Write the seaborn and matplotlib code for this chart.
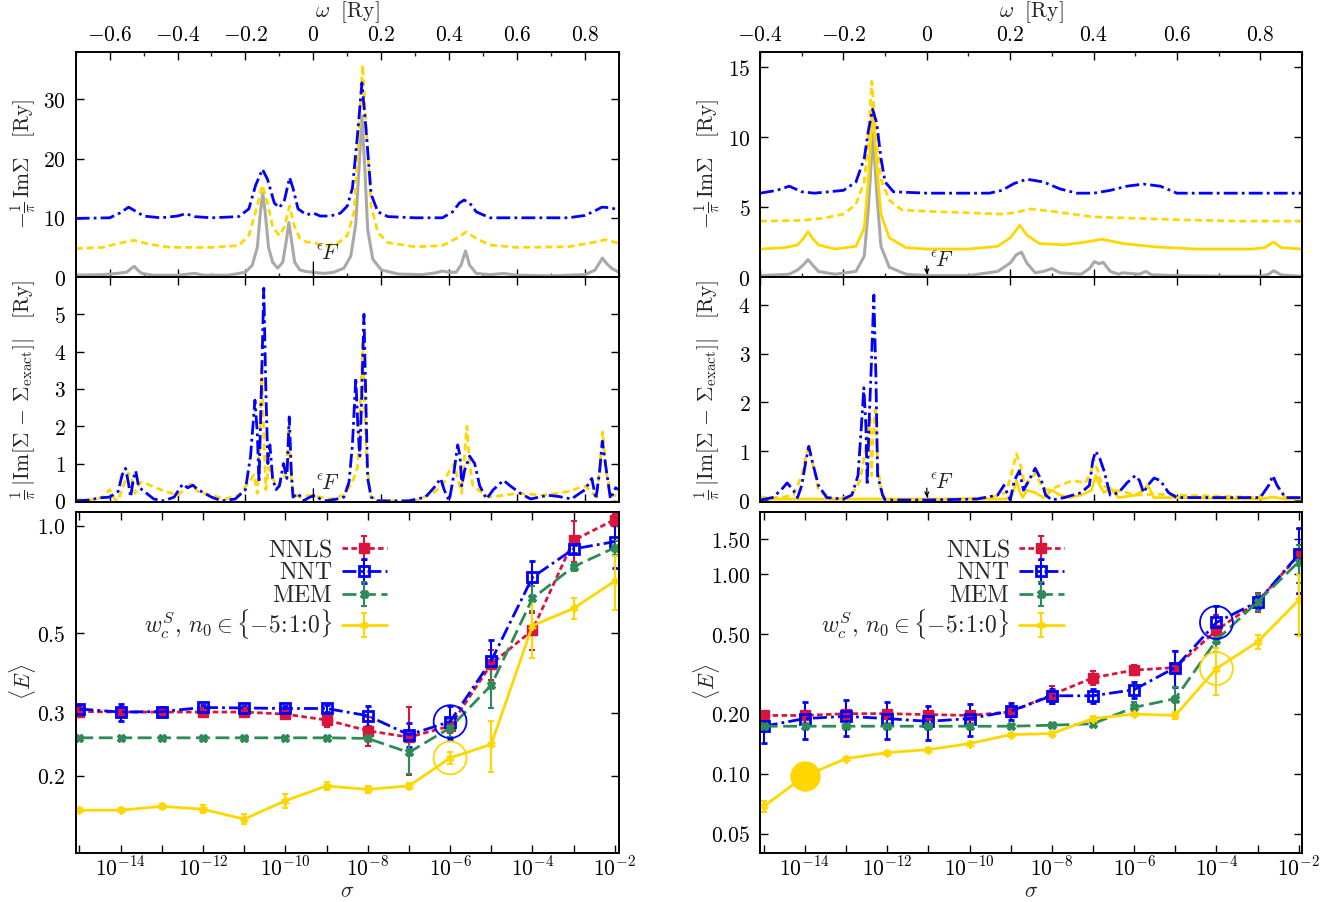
import matplotlib
matplotlib.use("Agg")
import matplotlib.pyplot as plt
import numpy as np
import pandas as pd
import seaborn as sns
from matplotlib.ticker import FixedLocator, FuncFormatter, NullLocator, MultipleLocator

sns.set_style("ticks")
plt.rcParams["mathtext.fontset"] = "cm"
plt.rcParams["font.family"] = ["DejaVu Serif"]
plt.rcParams["axes.linewidth"] = 1.4

RED = "#dc143c"
BLUE = "#0000ff"
GREEN = "#2e8b57"
GOLD = "#ffd700"
GRAY = "#a9a9a9"

# ---------------- spectra (omega [Ry], value [Ry]) ----------------
# left column, top panel
exact_L = [(-0.70, 0.3), (-0.62, 0.4), (-0.58, 0.6), (-0.55, 0.8), (-0.535, 1.5), (-0.527, 1.8),
           (-0.518, 1.2), (-0.505, 0.6), (-0.47, 0.3), (-0.40, 0.3), (-0.35, 0.6), (-0.32, 0.3),
           (-0.25, 0.3), (-0.20, 0.8), (-0.18, 2.0), (-0.165, 5.0), (-0.156, 11.0), (-0.149, 14.1),
           (-0.142, 11.0), (-0.132, 5.0), (-0.12, 2.5), (-0.105, 1.5), (-0.09, 2.5), (-0.08, 6.0),
           (-0.072, 9.2), (-0.064, 6.0), (-0.055, 2.5), (-0.04, 1.2), (-0.02, 0.9), (0.0, 0.8),
           (0.03, 0.6), (0.06, 0.8), (0.09, 1.5), (0.11, 3.5), (0.125, 9.0), (0.135, 19.0),
           (0.143, 27.2), (0.151, 19.0), (0.16, 8.0), (0.175, 3.0), (0.20, 1.2), (0.25, 0.5),
           (0.32, 0.4), (0.36, 0.7), (0.38, 1.0), (0.40, 0.8), (0.42, 0.8), (0.435, 2.0),
           (0.448, 4.4), (0.46, 2.0), (0.48, 0.6), (0.52, 0.4), (0.56, 0.6), (0.60, 0.3),
           (0.70, 0.2), (0.80, 0.4), (0.83, 1.2), (0.851, 3.2), (0.865, 2.2), (0.88, 1.4), (0.90, 0.8)]
nnt_L = [(-0.70, 9.9), (-0.60, 10.0), (-0.57, 10.8), (-0.544, 11.8), (-0.52, 11.0), (-0.50, 10.3),
         (-0.45, 10.0), (-0.40, 10.3), (-0.376, 10.7), (-0.35, 10.2), (-0.30, 10.0), (-0.22, 10.2),
         (-0.19, 11.5), (-0.17, 15.5), (-0.15, 18.2), (-0.135, 16.5), (-0.115, 12.5), (-0.10, 11.7),
         (-0.085, 13.0), (-0.07, 16.8), (-0.06, 15.0), (-0.045, 11.5), (-0.02, 10.5), (0.0, 10.8),
         (0.02, 10.3), (0.05, 10.3), (0.08, 10.8), (0.10, 12.0), (0.115, 15.0), (0.13, 24.0),
         (0.143, 32.8), (0.155, 25.0), (0.17, 14.0), (0.19, 11.0), (0.22, 10.2), (0.30, 10.0),
         (0.38, 10.0), (0.41, 11.0), (0.43, 12.5), (0.444, 13.0), (0.46, 12.5), (0.48, 11.0),
         (0.52, 10.0), (0.60, 10.0), (0.75, 10.0), (0.80, 10.4), (0.83, 11.2), (0.85, 11.8),
         (0.875, 11.7), (0.90, 11.3)]
ws_L = [(-0.70, 4.8), (-0.62, 5.0), (-0.58, 5.6), (-0.53, 6.2), (-0.48, 5.5), (-0.42, 5.0),
        (-0.30, 5.0), (-0.22, 5.3), (-0.19, 7.0), (-0.17, 11.0), (-0.15, 15.5), (-0.135, 12.5),
        (-0.12, 8.5), (-0.10, 7.0), (-0.085, 8.5), (-0.07, 12.0), (-0.058, 9.0), (-0.04, 6.5),
        (-0.02, 5.9), (0.0, 5.8), (0.03, 5.3), (0.07, 5.6), (0.10, 7.0), (0.12, 11.0),
        (0.135, 25.0), (0.145, 35.8), (0.155, 26.0), (0.17, 12.0), (0.19, 7.5), (0.22, 5.8),
        (0.30, 5.1), (0.38, 5.3), (0.42, 6.5), (0.45, 7.6), (0.48, 6.5), (0.52, 5.4),
        (0.60, 5.0), (0.75, 5.1), (0.82, 5.8), (0.86, 6.3), (0.90, 5.7)]

# right column, top panel
exact_R = [(-0.40, 0.1), (-0.33, 0.2), (-0.31, 0.5), (-0.295, 0.9), (-0.285, 1.24), (-0.275, 0.9),
           (-0.26, 0.4), (-0.22, 0.2), (-0.17, 0.4), (-0.15, 1.5), (-0.14, 5.0), (-0.129, 10.3),
           (-0.12, 6.0), (-0.11, 2.2), (-0.09, 0.7), (-0.05, 0.2), (0.0, 0.1), (0.10, 0.1),
           (0.17, 0.4), (0.20, 1.0), (0.215, 1.6), (0.227, 1.78), (0.24, 1.0), (0.26, 0.3),
           (0.28, 0.4), (0.30, 0.6), (0.32, 0.3), (0.37, 0.2), (0.39, 0.6), (0.402, 1.1),
           (0.413, 0.95), (0.423, 1.05), (0.44, 0.4), (0.46, 0.2), (0.47, 0.3), (0.49, 0.25),
           (0.51, 0.2), (0.525, 0.4), (0.54, 0.15), (0.60, 0.1), (0.70, 0.05), (0.80, 0.05),
           (0.82, 0.2), (0.832, 0.45), (0.85, 0.15), (0.90, 0.05)]
wsol_R = [(-0.40, 2.0), (-0.34, 2.1), (-0.31, 2.3), (-0.295, 2.8), (-0.285, 3.25), (-0.275, 2.8),
          (-0.26, 2.3), (-0.22, 2.0), (-0.17, 2.2), (-0.15, 3.5), (-0.14, 7.0), (-0.13, 12.3),
          (-0.12, 8.0), (-0.11, 4.5), (-0.09, 2.8), (-0.05, 2.1), (0.0, 2.0), (0.10, 2.0),
          (0.17, 2.2), (0.20, 2.8), (0.223, 3.7), (0.24, 3.0), (0.27, 2.4), (0.33, 2.3),
          (0.38, 2.5), (0.42, 2.7), (0.47, 2.4), (0.55, 2.15), (0.65, 2.0), (0.78, 2.0),
          (0.81, 2.1), (0.832, 2.5), (0.85, 2.1), (0.90, 2.0)]
ws_R = [(-0.40, 4.0), (-0.30, 4.05), (-0.25, 4.2), (-0.20, 4.5), (-0.17, 5.2), (-0.15, 6.8),
        (-0.14, 10.0), (-0.132, 14.0), (-0.12, 9.5), (-0.11, 7.0), (-0.09, 5.5), (-0.06, 4.8),
        (0.0, 4.7), (0.10, 4.6), (0.18, 4.5), (0.21, 4.6), (0.25, 4.87), (0.30, 4.7),
        (0.40, 4.3), (0.50, 4.2), (0.60, 4.1), (0.75, 4.0), (0.90, 4.0)]
nnt_R = [(-0.40, 6.0), (-0.36, 6.2), (-0.33, 6.5), (-0.30, 6.1), (-0.27, 6.0), (-0.20, 6.2),
         (-0.17, 6.8), (-0.15, 8.5), (-0.14, 10.5), (-0.13, 12.0), (-0.12, 11.0), (-0.11, 8.5),
         (-0.10, 6.8), (-0.08, 6.1), (0.0, 6.0), (0.15, 6.0), (0.18, 6.2), (0.21, 6.7),
         (0.24, 7.0), (0.28, 6.8), (0.32, 6.3), (0.36, 6.0), (0.40, 6.0), (0.44, 6.2),
         (0.48, 6.5), (0.52, 6.65), (0.56, 6.5), (0.60, 6.0), (0.70, 6.0), (0.90, 6.0)]

# deviation panels
dnnt_L = [(-0.70, 0.0), (-0.66, 0.02), (-0.63, 0.08), (-0.60, 0.1), (-0.575, 0.25), (-0.563, 0.7),
          (-0.553, 0.87), (-0.545, 0.5), (-0.538, 0.1), (-0.53, 0.6), (-0.523, 0.8), (-0.515, 0.4),
          (-0.505, 0.3), (-0.47, 0.05), (-0.44, 0.0), (-0.41, 0.1), (-0.385, 0.45), (-0.37, 0.35),
          (-0.355, 0.42), (-0.34, 0.3), (-0.30, 0.1), (-0.27, 0.0), (-0.23, 0.05), (-0.20, 0.3),
          (-0.185, 1.2), (-0.172, 2.7), (-0.165, 1.8), (-0.160, 0.5), (-0.153, 3.0), (-0.146, 5.7),
          (-0.14, 3.0), (-0.134, 1.0), (-0.128, 1.5), (-0.12, 0.6), (-0.11, 0.3), (-0.10, 0.4),
          (-0.088, 1.0), (-0.078, 0.6), (-0.071, 2.25), (-0.065, 0.8), (-0.06, 0.1), (-0.045, 0.2),
          (-0.03, 0.0), (-0.01, 0.1), (0.005, 0.15), (0.02, 0.05), (0.04, 0.0), (0.07, 0.05),
          (0.09, 0.1), (0.105, 0.5), (0.115, 1.5), (0.125, 3.3), (0.131, 2.0), (0.137, 1.2),
          (0.143, 3.0), (0.149, 5.0), (0.155, 2.5), (0.160, 0.6), (0.17, 0.1), (0.19, 0.0),
          (0.28, 0.0), (0.33, 0.1), (0.355, 0.35), (0.375, 0.6), (0.385, 0.3), (0.40, 0.0),
          (0.41, 0.5), (0.425, 1.5), (0.432, 1.2), (0.437, 0.4), (0.445, 0.8), (0.46, 1.2),
          (0.475, 1.0), (0.49, 0.4), (0.51, 0.05), (0.53, 0.3), (0.56, 0.55), (0.58, 0.4),
          (0.61, 0.2), (0.64, 0.05), (0.69, 0.15), (0.72, 0.12), (0.76, 0.05), (0.80, 0.3),
          (0.82, 0.6), (0.832, 0.05), (0.843, 0.8), (0.851, 1.6), (0.86, 1.0), (0.875, 0.05),
          (0.89, 0.35), (0.90, 0.3)]
dws_L = [(-0.70, 0.03), (-0.65, 0.03), (-0.62, 0.1), (-0.60, 0.3), (-0.585, 0.05), (-0.575, 0.0),
         (-0.56, 0.4), (-0.545, 0.75), (-0.535, 0.6), (-0.525, 0.2), (-0.51, 0.5), (-0.49, 0.45),
         (-0.45, 0.3), (-0.40, 0.15), (-0.38, 0.3), (-0.36, 0.45), (-0.34, 0.25), (-0.30, 0.15),
         (-0.26, 0.05), (-0.22, 0.15), (-0.19, 0.5), (-0.175, 0.7), (-0.165, 0.2), (-0.158, 1.5),
         (-0.152, 3.65), (-0.146, 1.8), (-0.14, 0.3), (-0.132, 0.9), (-0.12, 0.6), (-0.105, 0.4),
         (-0.085, 0.6), (-0.078, 1.0), (-0.073, 2.0), (-0.067, 0.8), (-0.06, 0.2), (-0.04, 0.1),
         (-0.01, 0.15), (0.02, 0.1), (0.05, 0.05), (0.09, 0.15), (0.115, 0.5), (0.13, 0.9),
         (0.138, 2.5), (0.145, 4.2), (0.151, 2.5), (0.157, 1.0), (0.17, 0.1), (0.20, 0.0),
         (0.30, 0.0), (0.35, 0.2), (0.38, 0.4), (0.40, 0.8), (0.415, 1.0), (0.425, 0.6),
         (0.437, 0.2), (0.445, 1.2), (0.452, 2.0), (0.46, 1.0), (0.47, 0.4), (0.50, 0.2),
         (0.52, 0.1), (0.56, 0.15), (0.60, 0.2), (0.68, 0.15), (0.75, 0.25), (0.80, 0.4),
         (0.835, 0.1), (0.845, 1.0), (0.852, 1.85), (0.862, 0.8), (0.875, 0.2), (0.90, 0.1)]
dnnt_R = [(-0.40, 0.0), (-0.37, 0.05), (-0.35, 0.2), (-0.335, 0.35), (-0.32, 0.2), (-0.31, 0.05),
          (-0.30, 0.3), (-0.29, 0.8), (-0.283, 1.1), (-0.275, 0.8), (-0.26, 0.3), (-0.24, 0.05),
          (-0.20, 0.02), (-0.18, 0.1), (-0.165, 0.5), (-0.157, 1.5), (-0.151, 2.3), (-0.146, 1.5),
          (-0.143, 0.3), (-0.138, 1.7), (-0.132, 3.0), (-0.127, 4.2), (-0.122, 2.5), (-0.118, 0.5),
          (-0.112, 0.3), (-0.106, 0.1), (-0.10, 0.0), (0.0, 0.0), (0.12, 0.02), (0.17, 0.1),
          (0.185, 0.3), (0.195, 0.1), (0.20, 0.0), (0.21, 0.4), (0.222, 0.6), (0.232, 0.2),
          (0.245, 0.4), (0.26, 0.65), (0.275, 0.4), (0.285, 0.1), (0.30, 0.0), (0.33, 0.05),
          (0.37, 0.15), (0.39, 0.3), (0.398, 0.8), (0.405, 1.0), (0.415, 0.85), (0.425, 0.6),
          (0.44, 0.1), (0.46, 0.15), (0.48, 0.35), (0.50, 0.5), (0.51, 0.4), (0.52, 0.15),
          (0.53, 0.3), (0.545, 0.45), (0.56, 0.4), (0.58, 0.15), (0.60, 0.05), (0.65, 0.05),
          (0.75, 0.05), (0.80, 0.05), (0.82, 0.3), (0.83, 0.5), (0.84, 0.3), (0.86, 0.05), (0.90, 0.05)]
dws_R = [(-0.40, 0.05), (-0.35, 0.05), (-0.32, 0.1), (-0.30, 0.5), (-0.29, 0.9), (-0.283, 1.1),
         (-0.275, 0.8), (-0.26, 0.2), (-0.22, 0.0), (-0.18, 0.1), (-0.16, 0.4), (-0.148, 1.0),
         (-0.140, 1.5), (-0.136, 1.67), (-0.133, 0.5), (-0.128, 1.4), (-0.124, 1.85), (-0.118, 0.8),
         (-0.112, 0.3), (-0.10, 0.0), (0.0, 0.0), (0.15, 0.05), (0.19, 0.15), (0.205, 0.6),
         (0.215, 0.95), (0.225, 0.7), (0.235, 0.3), (0.25, 0.45), (0.26, 0.55), (0.275, 0.3),
         (0.29, 0.2), (0.32, 0.3), (0.35, 0.4), (0.38, 0.35), (0.395, 0.6), (0.40, 0.85),
         (0.41, 0.6), (0.42, 0.3), (0.45, 0.2), (0.48, 0.15), (0.50, 0.1), (0.55, 0.12),
         (0.60, 0.1), (0.70, 0.08), (0.80, 0.05), (0.82, 0.3), (0.83, 0.45), (0.84, 0.3),
         (0.86, 0.05), (0.90, 0.02)]
dwsol_R = [(-0.40, 0.02), (0.0, 0.02), (0.19, 0.02), (0.205, 0.1), (0.215, 0.4), (0.222, 0.2),
           (0.23, 0.05), (0.24, 0.2), (0.26, 0.15), (0.28, 0.05), (0.30, 0.2), (0.32, 0.1),
           (0.34, 0.05), (0.37, 0.1), (0.395, 0.2), (0.405, 0.5), (0.415, 0.3), (0.425, 0.15),
           (0.44, 0.25), (0.46, 0.05), (0.50, 0.1), (0.52, 0.2), (0.53, 0.3), (0.545, 0.05),
           (0.60, 0.05), (0.80, 0.02), (0.83, 0.06), (0.86, 0.02), (0.90, 0.02)]

# ---------------- mean error vs noise level ----------------
sigma = [1e-15, 1e-14, 1e-13, 1e-12, 1e-11, 1e-10, 1e-9, 1e-8, 1e-7, 1e-6, 1e-5, 1e-4, 1e-3, 1e-2]

nnls_L = [0.302, 0.301, 0.301, 0.301, 0.301, 0.297, 0.286, 0.267, 0.256, 0.275, 0.41, 0.51, 0.91, 1.04]
nnls_L_err = [0.004, 0.005, 0.005, 0.004, 0.004, 0.004, 0.012, 0.025, 0.055, 0.012, 0.04, 0.06, 0.12, 0.04]
nntE_L = [0.307, 0.301, 0.302, 0.310, 0.309, 0.308, 0.308, 0.294, 0.260, 0.283, 0.419, 0.717, 0.861, 0.902]
nntE_L_err = [0.005, 0.017, 0.008, 0.004, 0.004, 0.004, 0.007, 0.018, 0.02, 0.03, 0.06, 0.08, 0.02, 0.14]
mem_L = [0.255, 0.255, 0.255, 0.255, 0.255, 0.255, 0.255, 0.254, 0.232, 0.272, 0.358, 0.626, 0.768, 0.868]
mem_L_err = [0.002, 0.002, 0.002, 0.002, 0.002, 0.002, 0.002, 0.003, 0.03, 0.015, 0.05, 0.05, 0.02, 0.04]
wsE_L = [0.160, 0.160, 0.164, 0.161, 0.151, 0.170, 0.187, 0.183, 0.187, 0.224, 0.2445, 0.525, 0.587, 0.70]
wsE_L_err = [0.002, 0.002, 0.003, 0.004, 0.005, 0.008, 0.005, 0.004, 0.004, 0.008, 0.04, 0.1, 0.04, 0.12]

nnls_R = [0.196, 0.196, 0.200, 0.200, 0.198, 0.196, 0.204, 0.249, 0.303, 0.331, 0.341, 0.525, 0.729, 1.25]
nnls_R_err = [0.005, 0.005, 0.005, 0.005, 0.005, 0.005, 0.008, 0.025, 0.025, 0.02, 0.07, 0.1, 0.08, 0.45]
nntE_R = [0.173, 0.189, 0.194, 0.189, 0.183, 0.189, 0.206, 0.246, 0.246, 0.264, 0.341, 0.574, 0.729, 1.26]
nntE_R_err = [0.03, 0.04, 0.04, 0.04, 0.035, 0.035, 0.02, 0.02, 0.02, 0.025, 0.07, 0.12, 0.05, 0.45]
mem_R = [0.173, 0.173, 0.173, 0.173, 0.173, 0.173, 0.173, 0.175, 0.178, 0.215, 0.238, 0.468, 0.729, 1.158]
mem_R_err = [0.004, 0.004, 0.004, 0.004, 0.004, 0.004, 0.004, 0.004, 0.005, 0.015, 0.035, 0.06, 0.07, 0.25]
wsE_R = [0.0685, 0.0973, 0.119, 0.1275, 0.132, 0.1415, 0.157, 0.159, 0.189, 0.199, 0.196, 0.337, 0.459, 0.743]
wsE_R_err = [0.004, 0.002, 0.002, 0.002, 0.002, 0.002, 0.003, 0.003, 0.006, 0.005, 0.008, 0.09, 0.035, 0.25]

labels = [r"$\mathrm{NNLS}$", r"$\mathrm{NNT}$", r"$\mathrm{MEM}$",
          r"$w_c^S,\, n_0 \in \{-5\!\mathrm{:}\!1\!\mathrm{:}\!0\}$"]

FS = 15.5      # tick labels / axis labels
FS_LEG = 17


def curve(ax, pts, color, dashes=None, lw=2.0, z=2):
    df = pd.DataFrame(pts, columns=["w", "v"])
    sns.lineplot(data=df, x="w", y="v", ax=ax, color=color, lw=lw, sort=False,
                 estimator=None, zorder=z)
    if dashes is not None:
        ax.lines[-1].set_dashes(dashes)


def wfmt(v, pos):
    if abs(v) < 1e-9:
        return r"$0$"
    return r"$%g$" % v


def yfmt(v, pos):
    return r"$%g$" % v


def style(ax):
    ax.tick_params(direction="in", length=6, width=1.0, top=True, right=True,
                   labelsize=FS, pad=7, colors="black")
    ax.tick_params(which="minor", direction="in", length=3, width=1.0, top=True, right=True)
    for s in ax.spines.values():
        s.set_linewidth(1.4)
        s.set_color("black")


def eps_mark(ax, x, y_top, y_txt, arrow):
    st = "->" if arrow else "-"
    ax.annotate("", xy=(x, 0.0), xytext=(x, y_top),
                arrowprops=dict(arrowstyle=st, lw=0.9, color="black", mutation_scale=7))
    ax.text(x + 0.008, y_txt, r"$^{\epsilon}\!F$", fontsize=FS, va="bottom", ha="left")


fig = plt.figure(figsize=(13.32, 9.02), dpi=100)

cols = [
    dict(x0=0.0568, w=0.4079, xlim=(-0.7, 0.9), top_ylim=(0, 38), top_ticks=[0, 10, 20, 30],
         mid_ylim=(-0.03, 6.0), mid_ticks=[0, 1, 2, 3, 4, 5], arrow=False,
         top=[(exact_L, GRAY, None), (ws_L, GOLD, (2.5, 1.5)), (nnt_L, BLUE, (5, 1.5, 1, 1.5))],
         mid=[(dws_L, GOLD, (2.5, 1.5)), (dnnt_L, BLUE, (5, 1.5, 1, 1.5))],
         eps_top=(3.0, 2.0), eps_mid=(0.4, 0.15),
         E=[(nnls_L, nnls_L_err), (nntE_L, nntE_L_err), (mem_L, mem_L_err), (wsE_L, wsE_L_err)],
         E_ylim=(0.1217, 1.092), E_ticks=[0.2, 0.3, 0.5, 1.0], E_fmt="%.1f",
         xlim_E=(10 ** -15.09, 10 ** -1.9), leg_x=0.59),
    dict(x0=0.5706, w=0.4069, xlim=(-0.4, 0.9), top_ylim=(0, 16.1), top_ticks=[0, 5, 10, 15],
         mid_ylim=(-0.04, 4.57), mid_ticks=[0, 1, 2, 3, 4], arrow=True,
         top=[(exact_R, GRAY, None), (wsol_R, GOLD, None), (ws_R, GOLD, (2.5, 1.5)),
              (nnt_R, BLUE, (5, 1.5, 1, 1.5))],
         mid=[(dwsol_R, GOLD, None), (dws_R, GOLD, (2.5, 1.5)), (dnnt_R, BLUE, (5, 1.5, 1, 1.5))],
         eps_top=(1.0, 0.35), eps_mid=(0.3, 0.12),
         E=[(nnls_R, nnls_R_err), (nntE_R, nntE_R_err), (mem_R, mem_R_err), (wsE_R, wsE_R_err)],
         E_ylim=(0.0401, 2.06), E_ticks=[0.05, 0.1, 0.2, 0.5, 1.0, 1.5], E_fmt="%.2f",
         xlim_E=(10 ** -15.09, 10 ** -1.92), leg_x=0.578),
]

for ci, c in enumerate(cols):
    ax_t = fig.add_axes([c["x0"], 0.6929, c["w"], 0.2494])
    ax_m = fig.add_axes([c["x0"], 0.4435, c["w"], 0.2494])
    ax_b = fig.add_axes([c["x0"], 0.0547, c["w"], 0.3777])

    # top: spectra
    for pts, col, d in c["top"]:
        curve(ax_t, pts, col, d, lw=2.2 if col == GRAY else 2.0)
    ax_t.set_xlim(*c["xlim"])
    ax_t.set_ylim(*c["top_ylim"])
    ax_t.xaxis.set_major_locator(MultipleLocator(0.2))
    ax_t.xaxis.set_minor_locator(MultipleLocator(0.1))
    ax_t.xaxis.set_major_formatter(FuncFormatter(wfmt))
    ax_t.yaxis.set_major_locator(FixedLocator(c["top_ticks"]))
    ax_t.yaxis.set_major_formatter(FuncFormatter(yfmt))
    style(ax_t)
    ax_t.tick_params(axis="x", labeltop=True, labelbottom=False, pad=4)
    ax_t.xaxis.set_label_position("top")
    ax_t.set_xlabel(r"$\omega\ \ [\mathrm{Ry}]$", fontsize=FS, labelpad=5)
    ax_t.set_ylabel(r"$-\frac{1}{\pi}\,\mathrm{Im}\Sigma\quad[\mathrm{Ry}]$", fontsize=FS)
    ax_t.yaxis.set_label_coords(-0.07, 0.5)
    eps_mark(ax_t, 0.0, c["eps_top"][0], c["eps_top"][1], c["arrow"])

    # middle: deviation from exact
    for pts, col, d in c["mid"]:
        curve(ax_m, pts, col, d)
    ax_m.set_xlim(*c["xlim"])
    ax_m.set_ylim(*c["mid_ylim"])
    ax_m.xaxis.set_major_locator(MultipleLocator(0.2))
    ax_m.yaxis.set_major_locator(FixedLocator(c["mid_ticks"]))
    ax_m.yaxis.set_major_formatter(FuncFormatter(yfmt))
    style(ax_m)
    ax_m.tick_params(axis="x", labeltop=False, labelbottom=False)
    ax_m.set_xlabel("")
    ax_m.set_ylabel(r"$\frac{1}{\pi}\,|\mathrm{Im}[\Sigma\,-\,\Sigma_{\mathrm{exact}}]|\quad[\mathrm{Ry}]$",
                    fontsize=FS)
    ax_m.yaxis.set_label_coords(-0.07, 0.5)
    eps_mark(ax_m, 0.0, c["eps_mid"][0], c["eps_mid"][1], c["arrow"])

    # bottom: mean error
    (v1, e1), (v2, e2), (v3, e3), (v4, e4) = c["E"]
    kw = dict(capsize=2.5, elinewidth=1.5, capthick=1.5, lw=2.0)
    h1 = ax_b.errorbar(sigma, v1, yerr=e1, color=RED, ls=(0, (2, 1.2)), marker="s", ms=7, **kw)
    h2 = ax_b.errorbar(sigma, v2, yerr=e2, color=BLUE, ls=(0, (5, 1.5, 1, 1.5)), marker="s", ms=7,
                       mfc="none", mew=2.0, **kw)
    h3 = ax_b.errorbar(sigma, v3, yerr=e3, color=GREEN, ls=(0, (5, 2)), marker="X", ms=6, **kw)
    h4 = ax_b.errorbar(sigma, v4, yerr=e4, color=GOLD, ls="-", marker=(6, 2, 0), ms=6, mew=1.5, **kw)
    ax_b.set_xscale("log")
    ax_b.set_yscale("log")
    ax_b.set_xlim(*c["xlim_E"])
    ax_b.set_ylim(*c["E_ylim"])
    ax_b.xaxis.set_major_locator(FixedLocator(sigma))
    ax_b.xaxis.set_minor_locator(NullLocator())
    ax_b.xaxis.set_major_formatter(FuncFormatter(
        lambda v, p: (r"$10^{%d}$" % round(np.log10(v))) if round(np.log10(v)) % 2 == 0 else ""))
    ax_b.yaxis.set_major_locator(FixedLocator(c["E_ticks"]))
    ax_b.yaxis.set_minor_locator(NullLocator())
    fmt = c["E_fmt"]
    ax_b.yaxis.set_major_formatter(FuncFormatter(lambda v, p, f=fmt: r"$%s$" % (f % v)))
    style(ax_b)
    ax_b.tick_params(axis="x", pad=3)
    ax_b.set_xlabel(r"$\sigma$", fontsize=FS, labelpad=-0.5)
    ax_b.set_ylabel(r"$\langle E\rangle$", fontsize=FS)
    ax_b.yaxis.set_label_coords(-0.07, 0.5)

    # highlighted points
    if ci == 0:
        ax_b.scatter([sigma[9]], [v2[9]], s=560, facecolors="none", edgecolors=BLUE, lw=1.3, zorder=6)
        ax_b.scatter([sigma[9]], [v4[9]], s=560, facecolors="none", edgecolors=GOLD, lw=1.3, zorder=6)
    else:
        ax_b.scatter([sigma[11]], [v2[11]], s=560, facecolors="none", edgecolors=BLUE, lw=1.3, zorder=6)
        ax_b.scatter([sigma[11]], [v4[11]], s=560, facecolors="none", edgecolors=GOLD, lw=1.3, zorder=6)
        ax_b.scatter([sigma[1]], [v4[1]], s=480, color=GOLD, lw=0, zorder=6)

    ax_b.legend([h1, h2, h3, h4], labels, loc="upper right",
                bbox_to_anchor=(c["leg_x"], 0.95), frameon=False,
                markerfirst=False, fontsize=FS_LEG, handlelength=1.9, labelspacing=0.0,
                borderaxespad=0, handletextpad=0.4)

fig.savefig("out.png", dpi=100)
